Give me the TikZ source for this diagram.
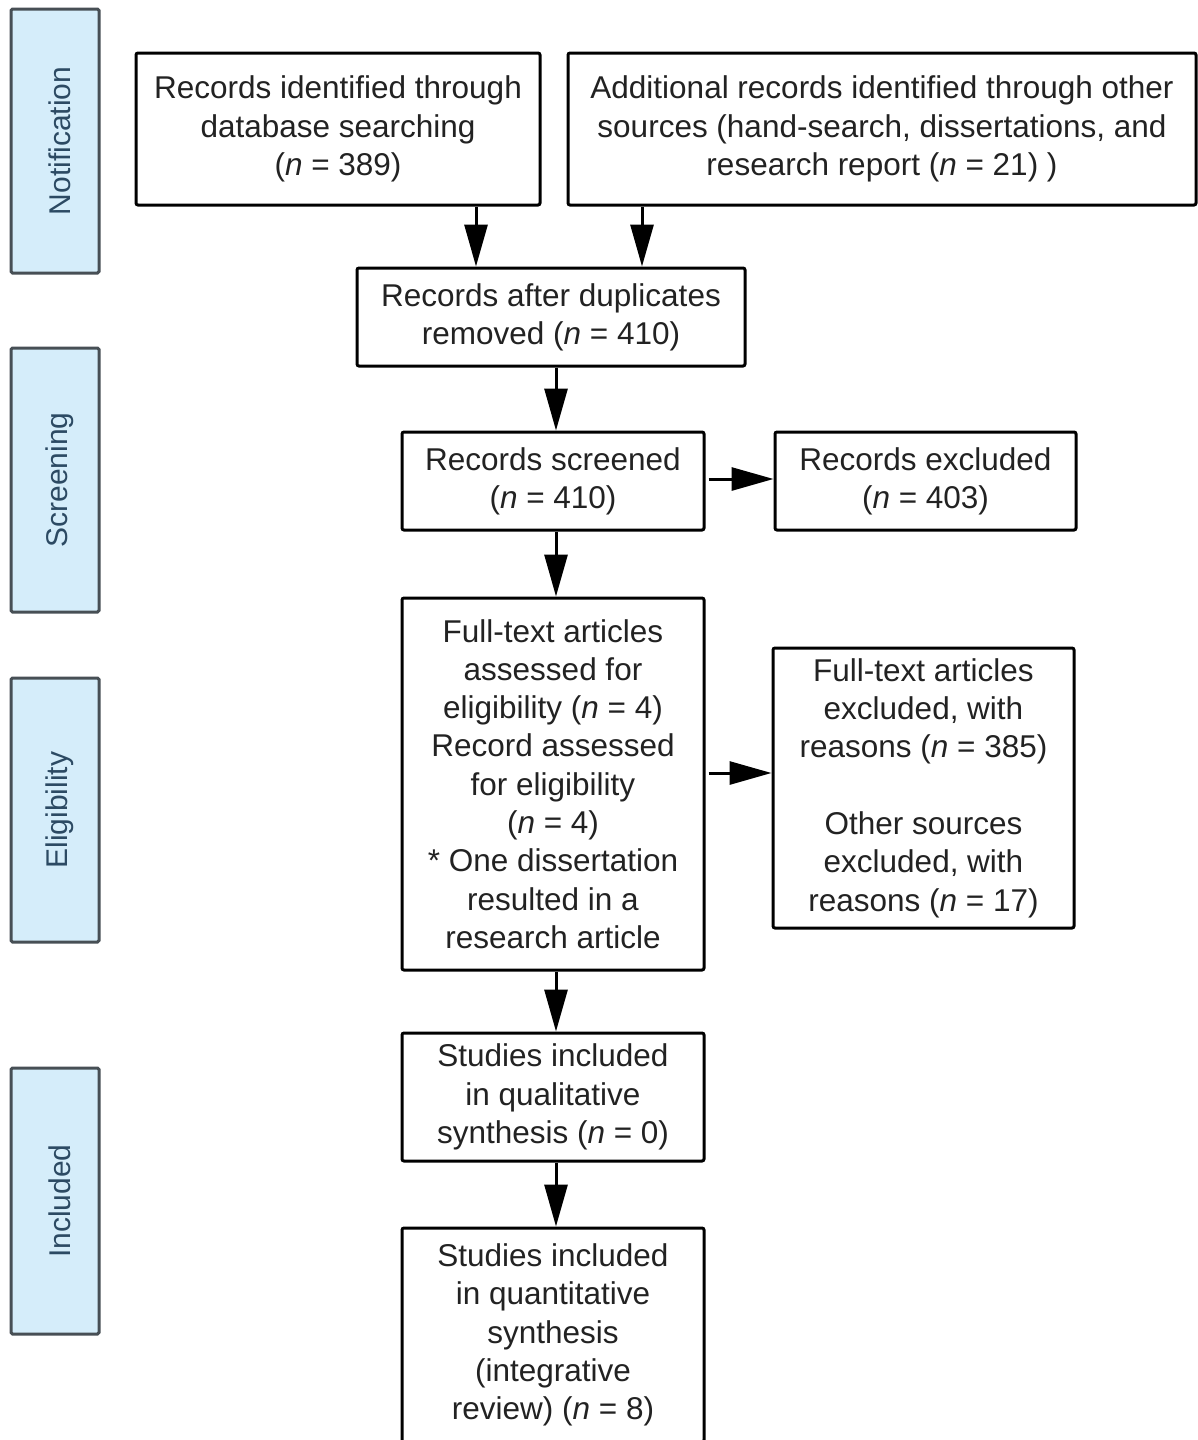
\documentclass[tikz,border=0pt]{standalone}
\usepackage{fontspec}
\setmainfont{Liberation Sans}
\usetikzlibrary{arrows.meta,calc}
\definecolor{sidefill}{HTML}{D5EDFA}
\definecolor{sidedraw}{HTML}{474F55}
\definecolor{sidetext}{HTML}{2C4A63}
\definecolor{maintext}{HTML}{222222}
\begin{document}
\begin{tikzpicture}[x=1pt,y=-1pt,
  box/.style={draw=black,line width=3pt,rounded corners=2pt,align=center,inner sep=0pt,
    text=maintext,font=\fontsize{31.5}{38.3}\selectfont},
  side/.style={draw=sidedraw,fill=sidefill,line width=3pt,rounded corners=1.5pt,inner sep=0pt,
    minimum width=88pt,minimum height=264pt},
  sidelabel/.style={rotate=90,text=sidetext,font=\fontsize{30}{36}\selectfont},
  arr/.style={line width=3pt,-{Triangle[length=42pt,width=23pt]}}]
\fill[white] (0,0) rectangle (1198,1440);
\useasboundingbox (0,0) rectangle (1198,1440);
% side bars
\node[side] (sN) at (55,141) {};
\node[sidelabel] (sNt) at ($(sN.center)+(5,0)$) {Notification};
\node[side] (sS) at (55,480) {};
\node[sidelabel] (sSt) at ($(sS.center)+(5,0)$) {Screening};
\node[side] (sE) at (55,810) {};
\node[sidelabel] (sEt) at ($(sE.center)+(5,0)$) {Eligibility};
\node[side,minimum height=266pt] (sI) at (55,1201) {};
\node[sidelabel] (sIt) at ($(sI.center)+(5,0)$) {Included};
% boxes
\node[box,minimum width=404pt,minimum height=152pt] (b1) at (338,129)
  {Records identified through\\database searching\\(\textit{n} = 389)};
\node[box,minimum width=628pt,minimum height=152pt] (b2) at (882,129)
  {Additional records identified through other\\sources (hand-search, dissertations, and\\research report (\textit{n} = 21) )};
\node[box,minimum width=388pt,minimum height=98pt] (b3) at (551,317)
  {Records after duplicates\\removed (\textit{n} = 410)};
\node[box,minimum width=302pt,minimum height=98pt] (b4) at (553,481)
  {Records screened\\(\textit{n} = 410)};
\node[box,minimum width=301pt,minimum height=98pt] (b5) at (925.5,481)
  {Records excluded\\(\textit{n} = 403)};
\node[box,minimum width=302pt,minimum height=372pt] (b6) at (553,784)
  {Full-text articles\\assessed for\\eligibility (\textit{n} = 4)\\Record assessed\\for eligibility\\(\textit{n} = 4)\\* One dissertation\\resulted in a\\research article};
\node[box,minimum width=301pt,minimum height=280pt] (b7) at (923.5,788)
  {Full-text articles\\excluded, with\\reasons (\textit{n} = 385)\\[38.3pt]Other sources\\excluded, with\\reasons (\textit{n} = 17)};
\node[box,minimum width=302pt,minimum height=128pt] (b8) at (553,1097)
  {Studies included\\in qualitative\\synthesis (\textit{n} = 0)};
\node[box,minimum width=302pt,minimum height=214pt] (b9) at (553,1335)
  {Studies included\\in quantitative\\synthesis\\(integrative\\review) (\textit{n} = 8)};
% connectors
\coordinate (c1) at (476,0);
\coordinate (c2) at (642,0);
\coordinate (c3) at (556,0);
\coordinate (h1) at (0,479);
\coordinate (h2) at (0,773);
\draw[arr] (b1.south -| c1) -- (b3.north -| c1);
\draw[arr] (b2.south -| c2) -- (b3.north -| c2);
\draw[arr] (b3.south -| c3) -- (b4.north -| c3);
\draw[arr] (b4.south -| c3) -- (b6.north -| c3);
\draw[arr] (b6.south -| c3) -- (b8.north -| c3);
\draw[arr] (b8.south -| c3) -- (b9.north -| c3);
\draw[arr,shorten <=3pt] (b4.east |- h1) -- (b5.west |- h1);
\draw[arr,shorten <=3pt] (b6.east |- h2) -- (b7.west |- h2);
\end{tikzpicture}
\end{document}
